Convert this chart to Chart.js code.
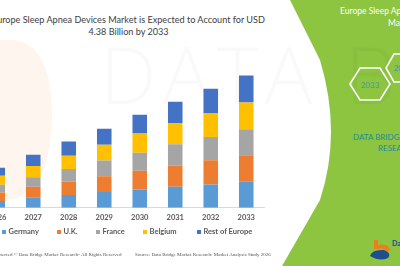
<!DOCTYPE html>
<html>
<head>
<meta charset="utf-8">
<script src="https://cdn.jsdelivr.net/npm/chart.js@4"></script>
<style>
  html, body { margin: 0; padding: 0; }
  body { width: 400px; height: 266px; overflow: hidden; position: relative; background: #fff; font-family: Lato, "Open Sans", sans-serif; }
  #bg { position: absolute; left: 0; top: 0; }
  #chart { position: absolute; left: -20px; top: 0; }
  #title { position: absolute; left: -20px; width: 297px; top: 13.5px; text-align: center; font: 9.1px/12.7px Lato, sans-serif; color: #404040; white-space: nowrap; }
  .mark { position: absolute; color: rgba(0,0,0,0.022); font-family: "Open Sans", sans-serif; font-weight: 300; white-space: nowrap; }
  .foot { position: absolute; top: 252px; font-size: 5px; color: #555; white-space: nowrap; font-family: "Liberation Serif", serif; }
  #legend .item { position: absolute; top: 226px; height: 11px; display: flex; align-items: center; font: bold 7.5px Lato, sans-serif; color: #595959; white-space: nowrap; }
  #legend i { display: inline-block; width: 4px; height: 4px; margin-right: 2.5px; }
</style>
</head>
<body>
<svg id="bg" width="400" height="266" viewBox="0 0 400 266">
  <rect x="0" y="0" width="400" height="266" fill="#8dc440"/>
  <path d="M0,0 L290,0 L320,60 Q342,133 320,200 L282,266 L0,266 Z" fill="#fff"/>
  <path d="M4,40 Q50,36 52,110 Q52,195 8,200 L0,200 L0,40 Z" fill="#fdf5ee"/>
  <text x="340" y="14" font-size="8.5" fill="#fff" font-family="Lato">Europe Sleep Apnea Devices</text>
  <text x="388" y="26" font-size="8.5" fill="#fff" font-family="Lato">Market</text>
  <polygon points="350,84 360,68 380,68 390,84 380,100 360,100" fill="none" stroke="#fff" stroke-width="1.6"/>
  <text x="370" y="87.5" font-size="8" fill="#4a9a9a" text-anchor="middle" font-family="Lato">2033</text>
  <polygon points="386,68 394,54 412,54 420,68 412,82 394,82" fill="none" stroke="#fff" stroke-width="1.6"/>
  <text x="403" y="71" font-size="8" fill="#4a9a9a" text-anchor="middle" font-family="Lato">2026</text>
  <text x="353" y="140" font-size="8" fill="#1f8a9e" font-family="Lato">DATA BRIDGE MARKET</text>
  <text x="378" y="151" font-size="8" fill="#1f8a9e" font-family="Lato">RESEARCH</text>
  <path d="M374,240 L378,240 L378,245 Q388,243 390,250 L386,252 Q384,247 378,249 L374,249 Z" fill="#f07c1c"/>
  <path d="M370,256 Q372,249 384,250 Q392,253 388,258 Q380,262 370,256 Z" fill="#1f4e8c"/>
  <text x="392" y="246" font-size="7" fill="#1f4e8c" font-family="Lato" font-weight="bold">Da</text>
</svg>
<div class="mark" style="left:100px; top:18px; font-size:80px; letter-spacing:6px;">DATA BRI</div>
<div class="mark" style="left:110px; top:172px; font-size:20px; letter-spacing:26px;">MARKET</div>
<div id="title">Europe Sleep Apnea Devices Market is Expected to Account for USD<br>4.38 Billion by 2033</div>
<canvas id="chart" width="297" height="266"></canvas>
<div id="legend"></div>
<div class="foot" style="left:-2px;">otected © Data Bridge Market Research- All Rights Reserved</div>
<div class="foot" style="left:135px;">Source: Data Bridge Market Research: Market Analysis Study 2026</div>
<script>
const years = ["2026", "2027", "2028", "2029", "2030", "2031", "2032", "2033"];
// USD billion
const germany = [0.22, 0.33, 0.42, 0.52, 0.60, 0.69, 0.77, 0.86];
const uk = [0.28, 0.36, 0.44, 0.52, 0.62, 0.70, 0.80, 0.87];
const france = [0.26, 0.32, 0.42, 0.52, 0.60, 0.71, 0.77, 0.86];
const belgium = [0.30, 0.37, 0.44, 0.52, 0.63, 0.70, 0.79, 0.89];
const restOfEurope = [0.26, 0.37, 0.47, 0.53, 0.62, 0.70, 0.80, 0.89];

const series = [
  { label: "Germany", data: germany, color: "#5b9bd5" },
  { label: "U.K.", data: uk, color: "#ed7d31" },
  { label: "France", data: france, color: "#a5a5a5" },
  { label: "Belgium", data: belgium, color: "#ffc000" },
  { label: "Rest of Europe", data: restOfEurope, color: "#4472c4" },
];

const ctx = document.getElementById("chart").getContext("2d");
const chart = new Chart(ctx, {
  type: "bar",
  data: {
    labels: years,
    datasets: series.map((s) => ({
      label: s.label,
      data: s.data,
      backgroundColor: s.color,
      borderWidth: 0,
      barPercentage: 0.41,
      categoryPercentage: 1,
    })),
  },
  options: {
    responsive: false,
    animation: false,
    layout: { padding: { left: 0, right: 13, top: 54, bottom: 39.3 } },
    plugins: {
      tooltip: { enabled: false },
      legend: { display: false },
      title: { display: false },
    },
    scales: {
      x: {
        stacked: true,
        grid: { display: false, drawTicks: false },
        border: { color: "#d9d9d9", width: 1 },
        ticks: { color: "#595959", padding: 5, font: { family: "Lato", size: 7.5, weight: "bold" } },
      },
      y: {
        stacked: true,
        display: false,
        min: 0,
        max: 5.08,
      },
    },
  },
});

// legend in HTML so the wide item spacing fits
const legendX = [2, 57, 96, 143, 197];
const legendEl = document.getElementById("legend");
Chart.defaults.plugins.legend.labels.generateLabels(chart).forEach((item, i) => {
  const el = document.createElement("span");
  el.className = "item";
  el.style.left = legendX[i] + "px";
  el.innerHTML = `<i style="background:${item.fillStyle}"></i>${item.text}`;
  legendEl.appendChild(el);
});
</script>
</body>
</html>
